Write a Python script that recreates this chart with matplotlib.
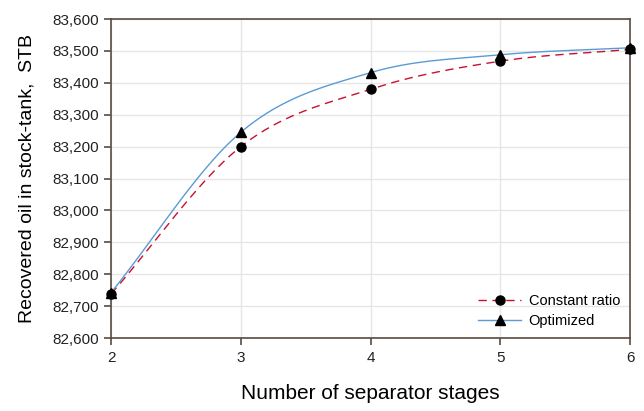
import numpy as np
import matplotlib
matplotlib.use("Agg")
import matplotlib.pyplot as plt
from matplotlib.ticker import FuncFormatter, MultipleLocator

plt.rcParams['font.family'] = ['Liberation Sans', 'DejaVu Sans']

stages = [2, 3, 4, 5, 6]
constant_ratio = [82738, 83200, 83380, 83468, 83505]
optimized = [82742, 83245, 83432, 83488, 83510]


def smooth(xs, ys, n=40):
    """Catmull-Rom spline through the points (like a spreadsheet smoothed line)."""
    xs = np.asarray(xs, float)
    ys = np.asarray(ys, float)
    px = np.concatenate([[2 * xs[0] - xs[1]], xs, [2 * xs[-1] - xs[-2]]])
    py = np.concatenate([[2 * ys[0] - ys[1]], ys, [2 * ys[-1] - ys[-2]]])
    ox, oy = [], []
    t = np.linspace(0, 1, n)
    for i in range(1, len(px) - 2):
        for p, out in ((px, ox), (py, oy)):
            p0, p1, p2, p3 = p[i - 1], p[i], p[i + 1], p[i + 2]
            seg = 0.5 * ((2 * p1) + (-p0 + p2) * t +
                         (2 * p0 - 5 * p1 + 4 * p2 - p3) * t ** 2 +
                         (-p0 + 3 * p1 - 3 * p2 + p3) * t ** 3)
            out.extend(seg if i == 1 else seg[1:])
    return np.array(ox), np.array(oy)


fig = plt.figure(figsize=(6.44, 4.11), dpi=100)
ax = fig.add_axes([0.1724, 0.1776, 0.806, 0.776])

red = '#c8102e'
blue = '#5b9bd5'

sx, sy = smooth(stages, constant_ratio)
ax.plot(sx, sy, color=red, lw=1.0, ls=(0, (6, 4)), zorder=3)
ax.plot(stages, constant_ratio, 'o', color='black', ms=6.5, zorder=4,
        clip_on=False)

ox, oy = smooth(stages, optimized)
ax.plot(ox, oy, color=blue, lw=1.0, zorder=3)
ax.plot(stages, optimized, '^', color='black', ms=6.5, zorder=4,
        clip_on=False)

# legend proxies
ax.plot([], [], color=red, lw=1.0, ls=(0, (6, 4)), marker='o', mfc='black',
        mec='black', ms=6.5, label='Constant ratio')
ax.plot([], [], color=blue, lw=1.0, marker='^', mfc='black', mec='black',
        ms=6.5, label='Optimized')
ax.legend(loc='lower right', frameon=False, fontsize=10.5, handlelength=2.95,
          handletextpad=0.5, borderaxespad=0.0, labelspacing=0.45,
          bbox_to_anchor=(0.992, 0.012))

ax.set_xlim(2, 6)
ax.set_ylim(82600, 83600)
ax.xaxis.set_major_locator(MultipleLocator(1))
ax.yaxis.set_major_locator(MultipleLocator(100))
ax.yaxis.set_major_formatter(FuncFormatter(lambda v, p: f'{int(v):,}'))

ax.grid(True, color='#e6e6e6', lw=1.0, zorder=0)
ax.set_axisbelow(True)
for s in ax.spines.values():
    s.set_color('#5a4a42')
    s.set_linewidth(1.2)
ax.tick_params(direction='out', length=5, width=1.2, color='#5a4a42',
               labelsize=11, labelcolor='#222222', pad=4)

ax.set_xlabel('Number of separator stages', fontsize=15, labelpad=14)
ax.set_ylabel('Recovered oil in stock-tank,  STB', fontsize=14, labelpad=12)

fig.savefig('out.png', dpi=100)
